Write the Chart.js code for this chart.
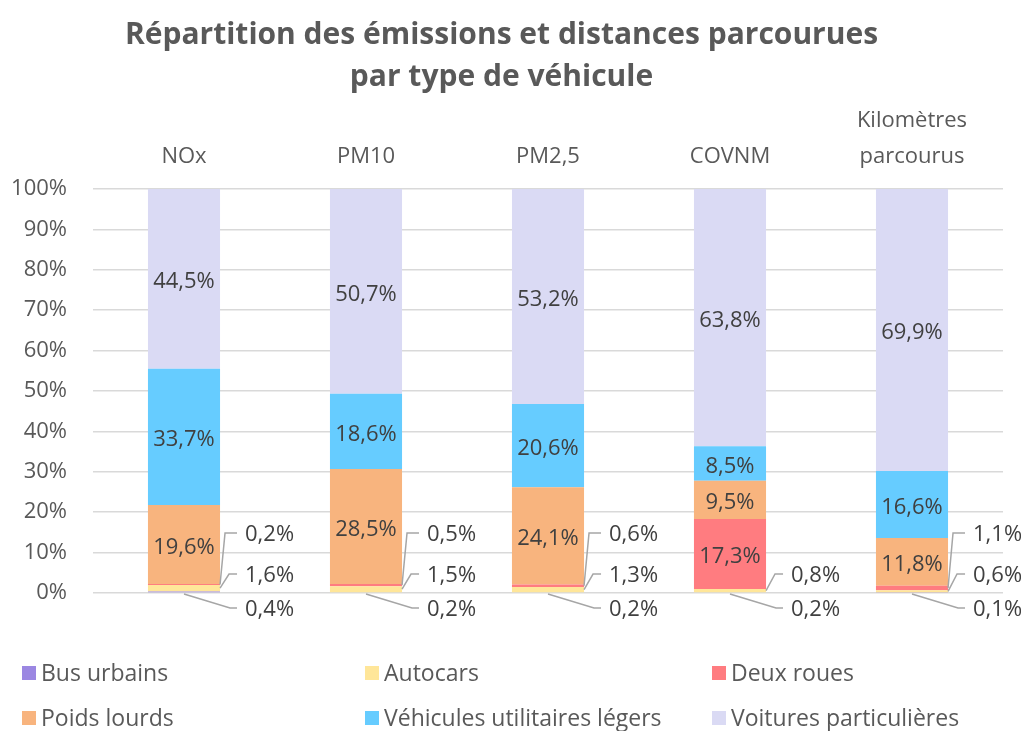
<!DOCTYPE html>
<html lang="fr">
<head>
<meta charset="utf-8">
<title>Répartition des émissions et distances parcourues par type de véhicule</title>
<script src="https://cdn.jsdelivr.net/npm/chart.js@4.4.1/dist/chart.umd.min.js"></script>
<style>
  html, body { margin: 0; padding: 0; background: #ffffff; }
  #wrap { width: 1021px; height: 731px; }
</style>
</head>
<body>
<div id="wrap"><canvas id="c" width="1021" height="731"></canvas></div>
<script>
// ---- Data ----
const categories = ['NOx', 'PM10', 'PM2,5', 'COVNM', ['Kilomètres', 'parcourus']];
const seriesNames = ['Bus urbains', 'Autocars', 'Deux roues', 'Poids lourds', 'Véhicules utilitaires légers', 'Voitures particulières'];
const busUrbains = [0.4, 0.2, 0.2, 0.2, 0.1];
const autocars = [1.6, 1.5, 1.3, 0.8, 0.6];
const deuxRoues = [0.2, 0.5, 0.6, 17.3, 1.1];
const poidsLourds = [19.6, 28.5, 24.1, 9.5, 11.8];
const vul = [33.7, 18.6, 20.6, 8.5, 16.6];
const voitures = [44.5, 50.7, 53.2, 63.8, 69.9];
const yTicks = [0, 10, 20, 30, 40, 50, 60, 70, 80, 90, 100];
const titleLines = ['Répartition des émissions et distances parcourues', 'par type de véhicule'];

// ---- Styles ----
const colors = ['#9B87E2', '#FFE699', '#FF7C80', '#F8B47E', '#66CCFF', '#DADAF4'];
const FONT = "'Open Sans', 'Noto Sans', sans-serif";
const TXT = '#595959';
const LBL = '#404040';
const LEADER = '#A6A6A6';

const seriesValues = [busUrbains, autocars, deuxRoues, poidsLourds, vul, voitures];
const fmt = v => v.toFixed(1).replace('.', ',') + '%';

// Data labels (centered for large segments, leader lines for small ones)
const labelPlugin = {
  id: 'segLabels',
  afterDatasetsDraw(chart) {
    const ctx = chart.ctx;
    const y0 = chart.scales.y.getPixelForValue(0);
    ctx.save();
    ctx.font = '22px ' + FONT;
    ctx.fillStyle = LBL;
    ctx.textBaseline = 'middle';
    chart.data.datasets.forEach((ds, di) => {
      const meta = chart.getDatasetMeta(di);
      meta.data.forEach((bar, i) => {
        const v = ds.data[i];
        const right = bar.x + bar.width / 2;
        if (v >= 3) {
          ctx.textAlign = 'center';
          ctx.fillText(fmt(v), bar.x, (bar.y + bar.base) / 2 + 3);
          return;
        }
        const segMid = (bar.y + bar.base) / 2;
        let ly, sx, sy, bx;
        if (di === 0) { ly = y0 + 15; sx = bar.x; sy = y0 + 1; bx = right + 10; }
        else if (di === 1) { ly = y0 - 19; sx = right; sy = segMid; bx = right + 9; }
        else { ly = y0 - 60; sx = right; sy = segMid; bx = right + 5; }
        ctx.strokeStyle = LEADER;
        ctx.lineWidth = 1.5;
        ctx.beginPath();
        ctx.moveTo(sx, sy);
        ctx.lineTo(bx, ly);
        ctx.lineTo(right + 17, ly);
        ctx.stroke();
        ctx.textAlign = 'left';
        ctx.fillText(fmt(v), right + 25, ly + 2);
      });
    });
    ctx.restore();
  }
};

// Grid-style legend at the bottom (3 columns x 2 rows)
const legendPlugin = {
  id: 'gridLegend',
  afterDraw(chart) {
    const ctx = chart.ctx;
    const colX = [22, 365, 712];
    const rowY = [674, 719];
    ctx.save();
    ctx.font = '23px ' + FONT;
    ctx.textBaseline = 'middle';
    ctx.textAlign = 'left';
    chart.data.datasets.forEach((ds, i) => {
      const x = colX[i % 3], y = rowY[Math.floor(i / 3)];
      ctx.fillStyle = ds.backgroundColor;
      ctx.fillRect(x, y - 8, 14, 14);
      ctx.fillStyle = TXT;
      ctx.fillText(ds.label, x + 19, y);
    });
    ctx.restore();
  }
};

const datasets = seriesNames.map((name, i) => ({
  label: name,
  data: seriesValues[i],
  backgroundColor: colors[i],
  borderWidth: 0,
  barPercentage: 0.396,
  categoryPercentage: 1.0
}));

new Chart(document.getElementById('c'), {
  type: 'bar',
  data: { labels: categories, datasets },
  options: {
    responsive: false,
    animation: false,
    devicePixelRatio: 1,
    layout: { padding: { left: 0, right: 18, top: 0, bottom: 138 } },
    plugins: {
      legend: { display: false },
      tooltip: { enabled: false },
      title: {
        display: true,
        text: titleLines,
        color: TXT,
        font: { family: FONT, size: 30, weight: 'bold', lineHeight: 1.4 },
        padding: { top: 14, bottom: 0 }
      }
    },
    scales: {
      x: {
        position: 'top',
        stacked: true,
        grid: { display: false, drawTicks: false },
        border: { display: false },
        ticks: {
          color: TXT,
          font: { family: FONT, size: 22, lineHeight: 1.6 },
          padding: 15,
          maxRotation: 0
        },
        afterFit(scale) { scale.height = 189 - 98; }
      },
      y: {
        stacked: true,
        min: 0,
        max: 100,
        afterBuildTicks(scale) { scale.ticks = yTicks.map(v => ({ value: v })); },
        grid: { color: '#D9D9D9', lineWidth: 1.5, drawTicks: false },
        border: { display: false },
        ticks: {
          color: TXT,
          font: { family: FONT, size: 22 },
          padding: 26,
          callback: v => v + '%'
        },
        afterFit(scale) { scale.width = 93; }
      }
    }
  },
  plugins: [labelPlugin, legendPlugin]
});
</script>
</body>
</html>
